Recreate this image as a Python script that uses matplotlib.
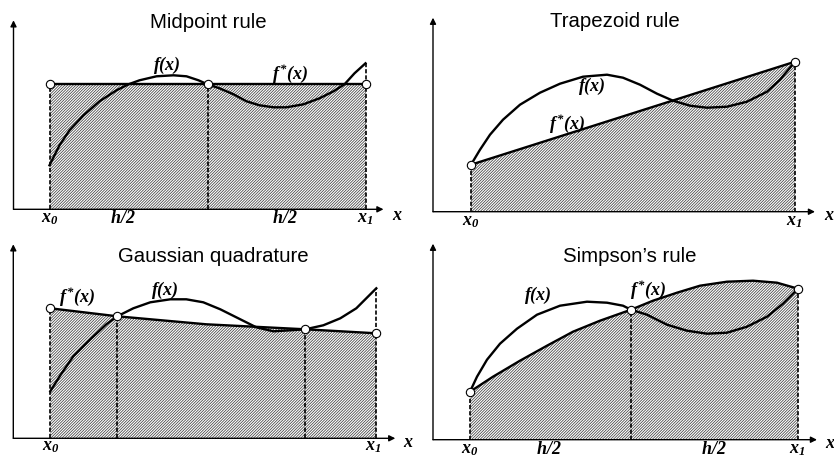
import numpy as np
import matplotlib
matplotlib.use("Agg")
import matplotlib.pyplot as plt

# Fonts: sans titles, bold italic serif for the math labels
plt.rcParams['font.family'] = ['Liberation Sans', 'DejaVu Sans']
plt.rcParams['mathtext.fontset'] = 'custom'
plt.rcParams['mathtext.it'] = 'Liberation Serif:italic:bold'
plt.rcParams['mathtext.rm'] = 'Liberation Serif:italic:bold'
plt.rcParams['mathtext.bf'] = 'Liberation Serif:italic:bold'
plt.rcParams['hatch.linewidth'] = 0.55

# --- data (units: pixels from each panel's origin) ---

# Midpoint rule
mid_x = [36, 46, 56, 70, 86, 103, 115, 126, 143, 160, 173, 185, 194, 206, 220,
         233, 246, 260, 273, 290, 306, 320, 331, 341, 352]
mid_f = [44, 64, 79, 94, 108, 119, 125, 129, 133, 134, 133, 129, 125, 121, 115,
         108, 104, 102, 102, 105, 111, 118, 125, 136, 146]
mid_nodes = [36, 194, 352]
mid_fstar = [125, 125, 125]

# Trapezoid rule
trap_x = [38, 47, 57, 70, 87, 107, 127, 150, 174, 190, 207, 224, 240, 257, 274,
          294, 314, 334, 347, 362]
trap_f = [47, 62, 77, 92, 107, 119, 128, 135, 137, 134, 127, 118, 111, 106, 104,
          105, 110, 120, 132, 150]
trap_nodes = [38, 362]
trap_fstar = [47, 150]

# Gaussian quadrature
gauss_x = [37, 47, 60, 77, 93, 104, 120, 137, 157, 173, 190, 207, 227, 243, 260,
           277, 292, 310, 327, 343, 363]
gauss_f = [47, 63, 82, 99, 114, 122, 130, 136, 139, 139, 136, 129, 119, 111, 107,
           108, 109, 113, 120, 130, 150]
gauss_fs_x = [37, 104, 193, 292, 363]
gauss_fs = [130, 122, 114, 109, 105]
gauss_nodes = [37, 104, 292, 363]
gauss_node_y = [130, 122, 109, 105]

# Simpson's rule
simp_x = [37, 44, 54, 67, 84, 104, 127, 154, 174, 190, 198, 214, 234, 254, 274,
          294, 314, 334, 350, 365]
simp_f = [48, 63, 80, 96, 111, 125, 134, 138, 137, 134, 130, 125, 115, 109, 106,
          107, 113, 123, 136, 151]
simp_fs_x = [37, 60, 87, 114, 140, 167, 198, 220, 244, 267, 294, 320, 344, 365]
simp_fs = [48, 63, 79, 94, 108, 119, 130, 139, 147, 154, 158, 159, 157, 151]
simp_nodes = [37, 198, 365]
simp_node_y = [48, 130, 151]

W, H = 834, 459
fig = plt.figure(figsize=(W / 100, H / 100), dpi=100)

XMIN, XMAX, YMIN, YMAX = -14, 405, -22, 205
LW = 1.7
HATCH = dict(facecolor='white', hatch='/' * 12, edgecolor='#404040', linewidth=0)
DASH = dict(colors='black', linestyles=(0, (2.5, 1.2)), linewidth=1.2)
LBL = 13


def panel(ox, oy, x_end, y_end, title, title_xy):
    # one axes per panel, 1 data unit = 1 pixel, origin at the axis corner
    ax = fig.add_axes([(ox + XMIN) / W, 1 - (oy - YMIN) / H,
                       (XMAX - XMIN) / W, (YMAX - YMIN) / H])
    ax.set_xlim(XMIN, XMAX)
    ax.set_ylim(YMIN, YMAX)
    ax.axis('off')
    arrow = dict(arrowstyle='-|>', lw=1.0, color='black', mutation_scale=9,
                 shrinkA=0, shrinkB=0)
    ax.annotate('', xy=(x_end, 0), xytext=(0, 0), arrowprops=arrow)
    ax.annotate('', xy=(0, y_end), xytext=(0, 0), arrowprops=arrow)
    ax.text(title_xy[0], title_xy[1], title, fontsize=14.7, ha='center', va='center')
    return ax


def nodes(ax, xs, ys):
    ax.plot(xs, ys, 'o', ms=6, mfc='white', mec='black', mew=0.8, zorder=6, clip_on=False)


def label(ax, x, y, s):
    ax.text(x, y, s, fontsize=LBL, ha='center', va='center', clip_on=False)


# ğŸ“Š Midpoint rule
ax = panel(13.5, 209.3, 370, 189, 'Midpoint rule', (194.5, 187))
ax.fill_between([mid_nodes[0], mid_nodes[-1]], 0, [mid_fstar[0], mid_fstar[-1]], **HATCH)
ax.vlines(mid_nodes, 0, [mid_fstar[0], mid_fstar[1], mid_f[-1]], **DASH)
ax.plot(mid_nodes, mid_fstar, color='black', lw=LW)
ax.plot(mid_x, mid_f, color='black', lw=LW, solid_joinstyle='round')
nodes(ax, mid_nodes, mid_fstar)
label(ax, 153, 144, '$f(x)$')
label(ax, 276, 136, '$f^{*}(x)$')
label(ax, 36.5, -9, '$x_0$')
label(ax, 109.5, -9, '$h/2$')
label(ax, 271.5, -9, '$h/2$')
label(ax, 352, -9, '$x_1$')
label(ax, 383.5, -6, '$x$')

# ğŸ“Š Trapezoid rule
ax = panel(433, 211.7, 382, 194, 'Trapezoid rule', (182, 190.5))
ax.fill_between(trap_nodes, 0, trap_fstar, **HATCH)
ax.vlines(trap_nodes, 0, trap_fstar, **DASH)
ax.plot(trap_nodes, trap_fstar, color='black', lw=LW)
ax.plot(trap_x, trap_f, color='black', lw=LW, solid_joinstyle='round')
nodes(ax, trap_nodes, trap_fstar)
label(ax, 158.7, 125, '$f(x)$')
label(ax, 133.7, 88.4, '$f^{*}(x)$')
label(ax, 37.7, -10.3, '$x_0$')
label(ax, 361, -10.3, '$x_1$')
label(ax, 396, -4.3, '$x$')

# ğŸ“Š Gaussian quadrature
ax = panel(13.3, 438.3, 382, 194, 'Gaussian quadrature', (199.7, 181.3))
ax.fill_between(gauss_fs_x, 0, gauss_fs, **HATCH)
ax.vlines(gauss_nodes, 0, [gauss_node_y[0], gauss_node_y[1], gauss_node_y[2], gauss_f[-1]], **DASH)
ax.plot(gauss_fs_x, gauss_fs, color='black', lw=LW, solid_joinstyle='round')
ax.plot(gauss_x, gauss_f, color='black', lw=LW, solid_joinstyle='round')
nodes(ax, gauss_nodes, gauss_node_y)
label(ax, 63.4, 141.6, '$f^{*}(x)$')
label(ax, 151.7, 148.3, '$f(x)$')
label(ax, 37.4, -8.7, '$x_0$')
label(ax, 359.7, -8.7, '$x_1$')
label(ax, 394.7, -4.7, '$x$')

# ğŸ“Š Simpson's rule
ax = panel(433, 439.7, 384, 196, 'Simpson\u2019s rule', (197, 182.7))
ax.fill_between(simp_fs_x, 0, simp_fs, **HATCH)
ax.vlines(simp_nodes, 0, simp_node_y, **DASH)
ax.plot(simp_fs_x, simp_fs, color='black', lw=LW, solid_joinstyle='round')
ax.plot(simp_x, simp_f, color='black', lw=LW, solid_joinstyle='round')
nodes(ax, simp_nodes, simp_node_y)
label(ax, 105, 144.7, '$f(x)$')
label(ax, 215, 149.7, '$f^{*}(x)$')
label(ax, 37, -9.3, '$x_0$')
label(ax, 116, -9.3, '$h/2$')
label(ax, 281, -9.3, '$h/2$')
label(ax, 364, -9.3, '$x_1$')
label(ax, 397, -4.3, '$x$')

fig.savefig('out.png', dpi=100)
